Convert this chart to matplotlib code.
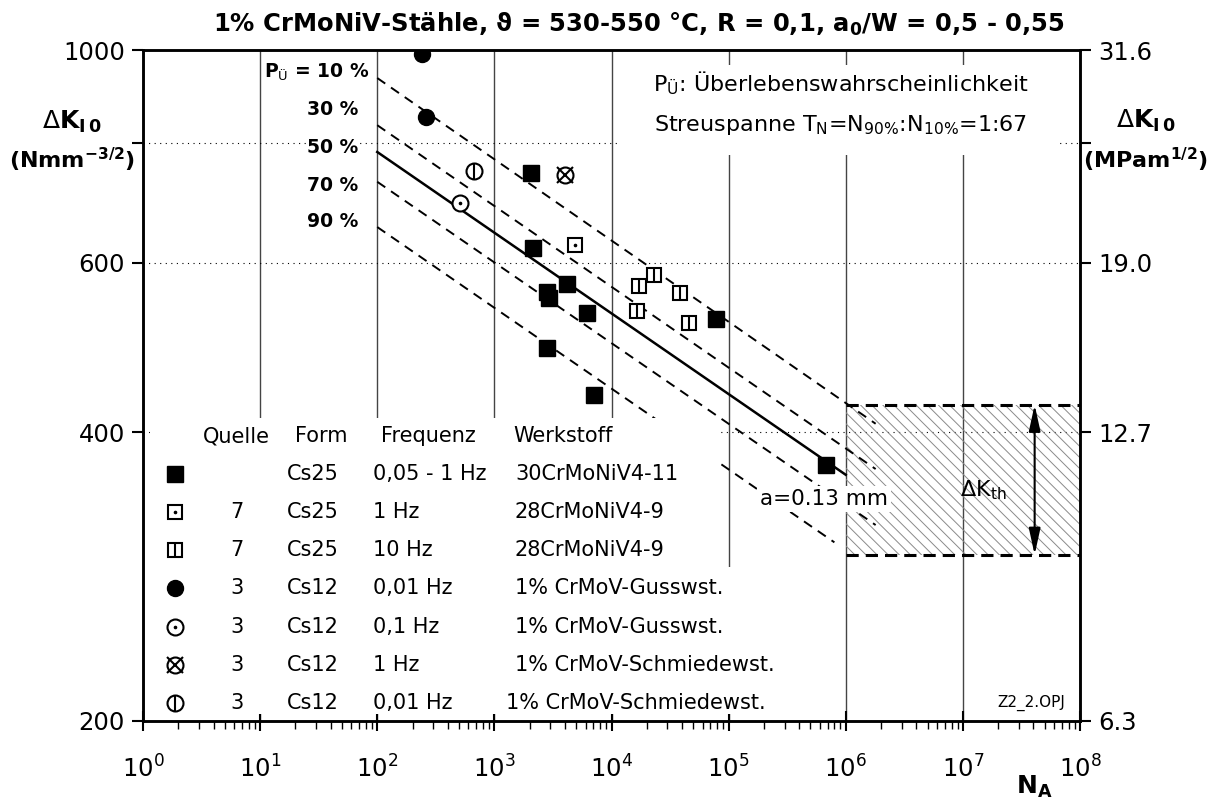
import numpy as np
import matplotlib.pyplot as plt
from matplotlib import patches
from matplotlib.ticker import LogLocator, NullLocator, NullFormatter

plt.rcParams['font.family'] = ['DejaVu Sans']
plt.rcParams['mathtext.fontset'] = 'dejavusans'
plt.rcParams['hatch.linewidth'] = 0.7

# --- values ---
# filled squares: 30CrMoNiV4-11, 0,05 - 1 Hz
sq_n = [2045, 2127, 2800, 2910, 4147, 6140, 2800, 7050, 77450, 673000]
sq_k = [744, 622, 560, 551, 570, 532, 489, 437, 524, 370]
# square with dot: 28CrMoNiV4-9, 1 Hz
sqdot_n = [4853]
sqdot_k = [626]
# square with bar: 28CrMoNiV4-9, 10 Hz
sqbar_n = [22900, 17060, 38200, 16400, 45600]
sqbar_k = [583, 568, 558, 535, 520]
# circles (1% CrMoV cast / forged)
circ_n = [240, 260]
circ_k = [990, 851]
circdot_n = [507]
circdot_k = [693]
circx_n = [3990]
circx_k = [741]
circbar_n = [667]
circbar_k = [748]

# scatter band P_U = 10 ... 90 %
pu_labels = ["P$_\\mathrm{Ü}$ = 10 %", "30 %", "50 %", "70 %", "90 %"]
band_n_start = [100, 100, 100, 100, 100]
band_k_start = [935, 835, 783, 729, 654]
band_n_end = [1.8e6, 1.8e6, 1e6, 1.8e6, 8e5]
band_k_end = [408, 366, 361, 320, 307]

# threshold region
dkth_n = [1e6, 1e8]
dkth_k = [298, 427]
arrow_n = 4.1e7

# axes ticks
y_ticks = [200, 400, 600, 800, 1000]
y_labels_left = ["200", "400", "600", "", "1000"]
y_labels_right = ["6.3", "12.7", "19.0", "", "31.6"]

# legend table
leg_kind = ["sq", "sqdot", "sqbar", "circ", "circdot", "circx", "circbar"]
leg_quelle = ["", "7", "7", "3", "3", "3", "3"]
leg_form = ["Cs25", "Cs25", "Cs25", "Cs12", "Cs12", "Cs12", "Cs12"]
leg_freq = ["0,05 - 1 Hz", "1 Hz", "10 Hz", "0,01 Hz", "0,1 Hz", "1 Hz", "0,01 Hz"]
leg_werk = ["30CrMoNiV4-11", "28CrMoNiV4-9", "28CrMoNiV4-9", "1% CrMoV-Gusswst.",
            "1% CrMoV-Gusswst.", "1% CrMoV-Schmiedewst.", "1% CrMoV-Schmiedewst."]


def draw_marker(ax, x, y, kind, **kw):
    """Draws one of the composite symbols"""
    ms = 11.5
    shape = "s" if kind.startswith("sq") else "o"
    if kind in ("sq", "circ"):
        ax.plot(x, y, shape, ms=ms, mfc="k", mec="k", ls="none", zorder=5, **kw)
        return
    size = ms - 0.8 if shape == "s" else ms
    ax.plot(x, y, shape, ms=size, mfc="white", mec="k", mew=1.5, ls="none", zorder=5, **kw)
    if kind.endswith("dot"):
        ax.plot(x, y, "o", ms=1.6, mfc="k", mec="k", ls="none", zorder=5, **kw)
    elif kind.endswith("bar"):
        ax.plot(x, y, "|", ms=size, mec="k", mew=1.5, ls="none", zorder=5, **kw)
    elif kind.endswith("x"):
        ax.plot(x, y, "x", ms=ms, mec="k", mew=1.5, ls="none", zorder=5, **kw)


fig = plt.figure(figsize=(12.2, 8), dpi=100)
ax = fig.add_axes([143 / 1220, 1 - 721 / 800, 937 / 1220, 671 / 800])

ax.set_xscale("log")
ax.set_yscale("log")
ax.set_xlim(1, 1e8)
ax.set_ylim(200, 1000)

ax.xaxis.set_major_locator(LogLocator(base=10, numticks=20))
ax.xaxis.set_minor_locator(LogLocator(base=10, subs=np.arange(2, 10), numticks=20))
ax.xaxis.set_minor_formatter(NullFormatter())
ax.set_yticks(y_ticks, y_labels_left)
ax.yaxis.set_minor_locator(NullLocator())

ax.tick_params(axis="x", which="major", direction="inout", length=14, width=1.5,
               labelsize=17.5, pad=18)
ax.tick_params(axis="x", which="minor", direction="out", length=6, width=1)
ax.tick_params(axis="y", which="major", direction="out", length=8, width=1.5,
               labelsize=17.5, pad=5)
for sp in ax.spines.values():
    sp.set_linewidth(1.8)

ax.grid(axis="x", which="major", color="#444444", lw=1.0)
ax.grid(axis="y", which="major", color="k", lw=0.8, ls=(0, (1, 4)))

ax2 = ax.twinx()
ax2.set_yscale("log")
ax2.set_ylim(200, 1000)
ax2.set_yticks(y_ticks, y_labels_right)
ax2.yaxis.set_minor_locator(NullLocator())
ax2.tick_params(axis="y", which="major", direction="out", length=8, width=1.5,
                labelsize=17.5, pad=5)
for sp in ax2.spines.values():
    sp.set_linewidth(1.8)

# threshold region
ax.add_patch(patches.Rectangle((dkth_n[0], dkth_k[0]), dkth_n[1] - dkth_n[0],
                               dkth_k[1] - dkth_k[0], fc="none", ec="#8a8a8a",
                               lw=0, hatch="\\\\\\", zorder=1.6))
for k in dkth_k:
    ax.plot(dkth_n, [k, k], color="k", lw=2.2, ls=(0, (4, 2.3)), zorder=2)
ax.annotate("", xy=(arrow_n, dkth_k[1]), xytext=(arrow_n, dkth_k[0]),
            arrowprops=dict(arrowstyle="<|-|>,head_length=1.6,head_width=0.35",
                            color="k", lw=1.5, mutation_scale=10,
                            shrinkA=0, shrinkB=0), zorder=4)
ax.text(0.872, 0.344, "ΔK$_\\mathrm{th}$", transform=ax.transAxes, fontsize=16,
        ha="left", va="center", zorder=6)

# scatter band
for i in range(len(pu_labels)):
    style = "-" if i == 2 else (0, (5, 3.6))
    width = 1.8 if i == 2 else 1.4
    ax.plot([band_n_start[i], band_n_end[i]], [band_k_start[i], band_k_end[i]],
            color="k", lw=width, ls=style, zorder=2)

label_y = [0.967, 0.9106, 0.8554, 0.7988, 0.7437]
for i, lab in enumerate(pu_labels):
    xr = 0.2423 if i == 0 else 0.2295
    ax.text(xr, label_y[i], lab, transform=ax.transAxes, fontsize=13.5,
            fontweight="bold", ha="right", va="center",
            bbox=dict(fc="white", ec="none", pad=0.5), zorder=6)

# white boxes behind the text blocks
ax.add_patch(patches.Rectangle((0.509, 0.8435), 0.4675, 0.134, transform=ax.transAxes,
                               fc="white", ec="none", zorder=3))
ax.add_patch(patches.Rectangle((0.0075, 0.01), 0.609, 0.4416, transform=ax.transAxes,
                               fc="white", ec="none", zorder=3))
ax.add_patch(patches.Rectangle((0.6165, 0.01), 0.085, 0.2195, transform=ax.transAxes,
                               fc="white", ec="none", zorder=3))

ax.text(0.745, 0.9508, "P$_\\mathrm{Ü}$: Überlebenswahrscheinlichkeit",
        transform=ax.transAxes, fontsize=16, ha="center", va="center", zorder=6)
ax.text(0.745, 0.888,
        "Streuspanne T$_\\mathrm{N}$=N$_\\mathrm{90\\%}$:N$_\\mathrm{10\\%}$=1:67",
        transform=ax.transAxes, fontsize=16, ha="center", va="center", zorder=6)

ax.text(0.727, 0.331, "a=0.13 mm", transform=ax.transAxes, fontsize=15.5,
        ha="center", va="center", bbox=dict(fc="white", ec="none", pad=2), zorder=6)
ax.text(0.984, 0.027, "Z2_2.OPJ", transform=ax.transAxes, fontsize=11,
        ha="right", va="center", zorder=6)

# data points
draw_marker(ax, sq_n, sq_k, "sq")
draw_marker(ax, sqdot_n, sqdot_k, "sqdot")
draw_marker(ax, sqbar_n, sqbar_k, "sqbar")
draw_marker(ax, circ_n, circ_k, "circ")
draw_marker(ax, circdot_n, circdot_k, "circdot")
draw_marker(ax, circx_n, circx_k, "circx")
draw_marker(ax, circbar_n, circbar_k, "circbar")

# legend table
fs = 15
head_y = 0.4247
ax.text(0.064, head_y, "Quelle", transform=ax.transAxes, fontsize=fs, va="center", zorder=6)
ax.text(0.1622, head_y, "Form", transform=ax.transAxes, fontsize=fs, va="center", zorder=6)
ax.text(0.254, head_y, "Frequenz", transform=ax.transAxes, fontsize=fs, va="center", zorder=6)
ax.text(0.395, head_y, "Werkstoff", transform=ax.transAxes, fontsize=fs, va="center", zorder=6)
for i in range(len(leg_kind)):
    ry = 0.368 - i * 0.0568
    draw_marker(ax, [0.0342], [ry], leg_kind[i], transform=ax.transAxes, clip_on=False)
    ax.text(0.1003, ry, leg_quelle[i], transform=ax.transAxes, fontsize=fs,
            ha="center", va="center", zorder=6)
    ax.text(0.1537, ry, leg_form[i], transform=ax.transAxes, fontsize=fs,
            va="center", zorder=6)
    ax.text(0.2455, ry, leg_freq[i], transform=ax.transAxes, fontsize=fs,
            va="center", zorder=6)
    wx = 0.387 if i == len(leg_kind) - 1 else 0.397
    ax.text(wx, ry, leg_werk[i], transform=ax.transAxes, fontsize=fs,
            va="center", zorder=6)

# titles and axis labels
fig.text(0.524, 0.97,
         "1% CrMoNiV-Stähle, ϑ = 530-550 °C, R = 0,1, a$_\\mathbf{0}$/W = 0,5 - 0,55",
         fontsize=17.5, fontweight="bold", ha="center", va="center")
fig.text(0.059, 0.847, "Δ$\\mathbf{K}_{\\mathbf{I\\,0}}$", fontsize=18,
         ha="center", va="center")
fig.text(0.059, 0.800, "(Nmm$^{\\mathbf{-3/2}}$)", fontsize=16, fontweight="bold",
         ha="center", va="center")
fig.text(0.939, 0.849, "Δ$\\mathbf{K}_{\\mathbf{I\\,0}}$", fontsize=18,
         ha="center", va="center")
fig.text(0.939, 0.800, "(MPam$^{\\mathbf{1/2}}$)", fontsize=16, fontweight="bold",
         ha="center", va="center")
fig.text(0.848, 0.016, "N$_\\mathbf{A}$", fontsize=18, fontweight="bold",
         ha="center", va="center")

fig.savefig("out.png", dpi=100)
